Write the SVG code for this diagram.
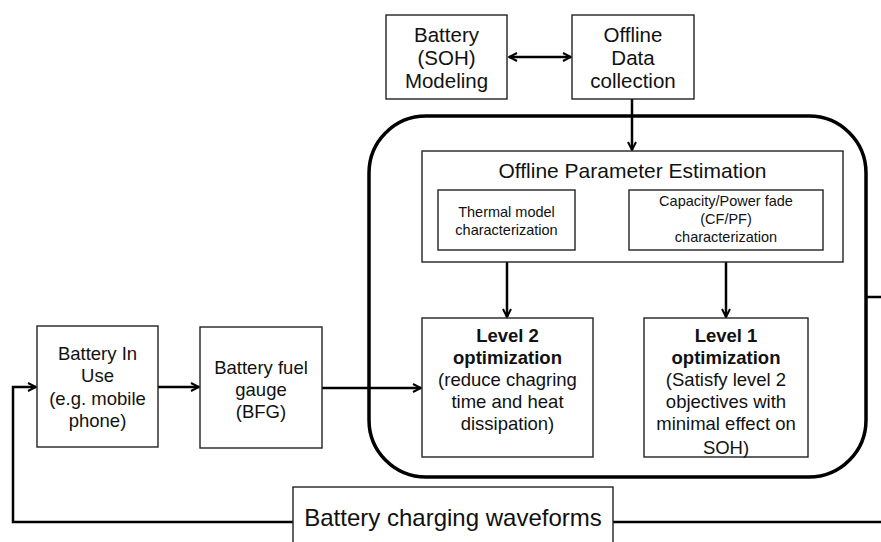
<svg xmlns="http://www.w3.org/2000/svg" width="881" height="542" viewBox="0 0 881 542">
  <style>
    .box { fill: #fff; stroke: #222; stroke-width: 1.4; }
    .t { font-family: "Liberation Sans", Arial, sans-serif; fill: #111; text-anchor: middle; }
    .n { font-size: 18.5px; }
    .l { font-size: 20.5px; }
    .s { font-size: 14.5px; }
    .b { font-weight: bold; }
    .wire { fill: none; stroke: #000; stroke-width: 2.5; }
  </style>
  <defs>
    <marker id="arrow" viewBox="0 0 10 10" refX="9" refY="5" markerWidth="4" markerHeight="4" orient="auto-start-reverse" markerUnits="strokeWidth">
      <path d="M1,1 L9,5 L1,9" fill="none" stroke="#000" stroke-width="2"/>
    </marker>
  </defs>

  <!-- outer optimisation frame -->
  <rect id="frame" x="369" y="116" width="497" height="361" rx="57" ry="57" fill="none" stroke="#000" stroke-width="3.5"/>

  <g id="connectors">
    <line class="wire" x1="509" y1="57" x2="571" y2="57" marker-start="url(#arrow)" marker-end="url(#arrow)"/>
    <line class="wire" x1="632" y1="99" x2="632" y2="150" marker-end="url(#arrow)"/>
    <line class="wire" x1="507" y1="250" x2="507" y2="317" marker-end="url(#arrow)"/>
    <line class="wire" x1="726" y1="250" x2="726" y2="317" marker-end="url(#arrow)"/>
    <line class="wire" x1="158" y1="387" x2="199" y2="387" marker-end="url(#arrow)"/>
    <line class="wire" x1="322" y1="388" x2="421" y2="388" marker-end="url(#arrow)"/>
    <line class="wire" x1="866" y1="297" x2="881" y2="297"/>
    <line class="wire" x1="613" y1="522" x2="881" y2="522"/>
    <polyline class="wire" points="293,522 13,522 13,387 36,387" marker-end="url(#arrow)"/>
  </g>

  <g id="soh-modeling">
    <rect class="box" x="386" y="15" width="121" height="84"/>
    <text class="t l" x="446.5" y="42">Battery</text>
    <text class="t l" x="446.5" y="65">(SOH)</text>
    <text class="t l" x="446.5" y="88">Modeling</text>
  </g>

  <g id="offline-data">
    <rect class="box" x="572" y="15" width="122" height="84"/>
    <text class="t l" x="633" y="42">Offline</text>
    <text class="t l" x="633" y="65">Data</text>
    <text class="t l" x="633" y="88">collection</text>
  </g>

  <g id="parameter-estimation">
    <rect class="box" x="422" y="151" width="421" height="111"/>
    <text class="t" x="632.5" y="178" font-size="21">Offline Parameter Estimation</text>
  </g>

  <g id="thermal">
    <rect class="box" x="438" y="190" width="137" height="60"/>
    <text class="t s" x="506.5" y="217">Thermal model</text>
    <text class="t s" x="506.5" y="235">characterization</text>
  </g>

  <g id="capacity-fade">
    <rect class="box" x="629" y="190" width="194" height="60"/>
    <text class="t s" x="726" y="206">Capacity/Power fade</text>
    <text class="t s" x="726" y="224">(CF/PF)</text>
    <text class="t s" x="726" y="242">characterization</text>
  </g>

  <g id="level2">
    <rect class="box" x="422" y="318" width="171" height="139"/>
    <text class="t n b" x="507.5" y="342">Level 2</text>
    <text class="t n b" x="507.5" y="364">optimization</text>
    <text class="t n" x="507.5" y="386">(reduce chagring</text>
    <text class="t n" x="507.5" y="408">time and heat</text>
    <text class="t n" x="507.5" y="430">dissipation)</text>
  </g>

  <g id="level1">
    <rect class="box" x="644" y="318" width="164" height="139"/>
    <text class="t n b" x="726" y="342">Level 1</text>
    <text class="t n b" x="726" y="364">optimization</text>
    <text class="t n" x="726" y="386">(Satisfy level 2</text>
    <text class="t n" x="726" y="408">objectives with</text>
    <text class="t n" x="726" y="430">minimal effect on</text>
    <text class="t n" x="726" y="454">SOH)</text>
  </g>

  <g id="battery-in-use">
    <rect class="box" x="37" y="326" width="121" height="121"/>
    <text class="t n" x="97.5" y="360">Battery In</text>
    <text class="t n" x="97.5" y="382">Use</text>
    <text class="t n" x="97.5" y="405">(e.g. mobile</text>
    <text class="t n" x="97.5" y="427">phone)</text>
  </g>

  <g id="fuel-gauge">
    <rect class="box" x="200" y="327" width="122" height="121"/>
    <text class="t n" x="261" y="374">Battery fuel</text>
    <text class="t n" x="261" y="396">gauge</text>
    <text class="t n" x="261" y="418">(BFG)</text>
  </g>

  <g id="charging-waveforms">
    <rect class="box" x="293" y="487" width="320" height="70"/>
    <text class="t" x="453" y="526" font-size="24">Battery charging waveforms</text>
  </g>
</svg>
